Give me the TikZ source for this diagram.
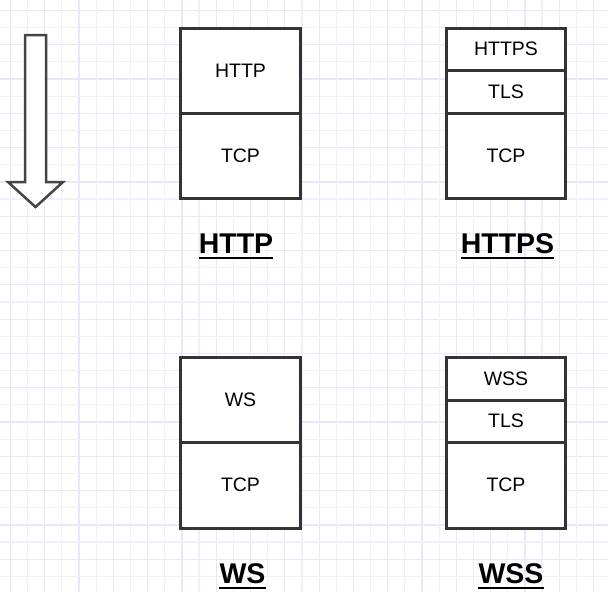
\documentclass[tikz,border=0pt]{standalone}
\usepackage{fontspec}
\setmainfont{Liberation Sans}
\definecolor{gridminor}{RGB}{240,240,252}
\definecolor{gridmajor}{RGB}{232,232,251}
\definecolor{boxline}{RGB}{51,51,51}
\definecolor{arrowline}{RGB}{68,68,68}
\begin{document}
\begin{tikzpicture}[x=1pt,y=-1pt,
  layer/.style={draw=boxline, line width=3pt, fill=white, inner sep=0pt,
    minimum width=119.5pt, font=\fontsize{19.5}{19.5}\selectfont},
  title/.style={font=\fontsize{28.5}{28.5}\selectfont\bfseries, inner sep=0pt, anchor=base},
  uline/.style={line width=2pt, black}]
\useasboundingbox (0,0) rectangle (608,592);
\fill[white] (0,0) rectangle (608,592);
% grid
\foreach \k in {0,...,35}{
  \pgfmathsetmacro{\p}{10.4+17.15*\k}
  \pgfmathtruncatemacro{\ev}{mod(\k,2)}
  \ifnum\ev=0
    \draw[gridmajor, line width=1.2pt] (\p,0) -- (\p,592);
    \draw[gridmajor, line width=1.2pt] (0,\p) -- (608,\p);
  \else
    \draw[gridminor, line width=1.2pt] (\p,0) -- (\p,592);
    \draw[gridminor, line width=1.2pt] (0,\p) -- (608,\p);
  \fi
}
% arrow
\draw[arrowline, line width=2.5pt, fill=white, line join=miter]
  (25,35) -- (46,35) -- (46,182) -- (63,182) -- (35.5,207) -- (8,182) -- (25,182) -- cycle;
% HTTP stack
\node[layer, minimum height=85pt] (httpL) at (240.5,70.5) {HTTP};
\node[layer, minimum height=85pt] (httpT) at (240.5,155.5) {TCP};
% HTTPS stack
\node[layer, minimum height=85pt] (httpsT) at (506,155.5) {TCP};
\node[layer, minimum height=43pt] (httpsS) at (506,91.5) {TLS};
\node[layer, minimum height=42pt] (httpsL) at (506,49) {HTTPS};
% WS stack
\node[layer, minimum height=85pt] (wsL) at (240.5,399.5) {WS};
\node[layer, minimum height=86pt] (wsT) at (240.5,485) {TCP};
% WSS stack
\node[layer, minimum height=86pt] (wssT) at (506,485) {TCP};
\node[layer, minimum height=42pt] (wssS) at (506,421) {TLS};
\node[layer, minimum height=43pt] (wssL) at (506,378.5) {WSS};
% titles
\node[title] (tHTTP) at (236,253) {HTTP};
\node[title] (tHTTPS) at (507.5,253) {HTTPS};
\node[title] (tWS) at (242.5,583) {WS};
\node[title] (tWSS) at (511,583) {WSS};
\foreach \n in {tHTTP,tHTTPS,tWS,tWSS}{
  \draw[uline] ([yshift=-4.5pt]\n.base west) -- ([yshift=-4.5pt]\n.base east);
}
\end{tikzpicture}
\end{document}
